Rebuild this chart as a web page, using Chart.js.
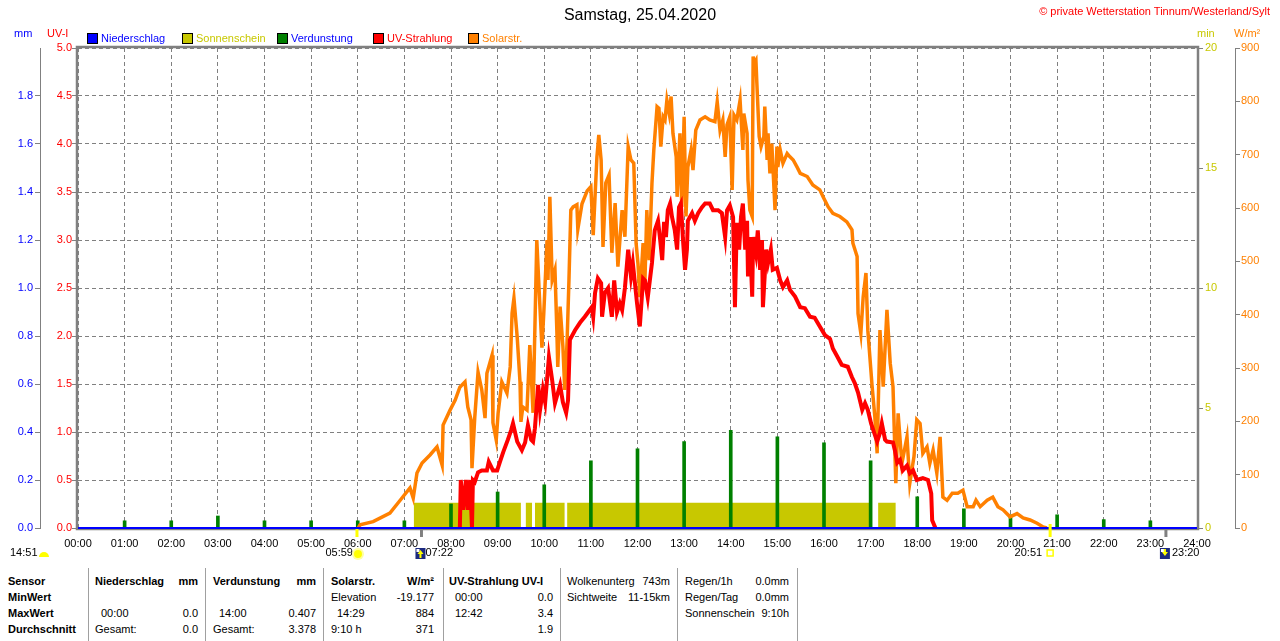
<!DOCTYPE html>
<html>
<head>
<meta charset="utf-8">
<script src="https://cdn.jsdelivr.net/npm/chart.js@4.4.1/dist/chart.umd.min.js"></script>
<style>
body { margin: 0; background: #fff; font-family: "Liberation Sans", Arial, sans-serif; font-size: 11px; color: #000; }
#wrap { position: relative; width: 1280px; height: 641px; overflow: hidden; }
#c { position: absolute; left: 0; top: 0; }
.t { position: absolute; line-height: 13px; white-space: nowrap; }
.sq { position: absolute; top: 33px; width: 9px; height: 9px; border: 1px solid #000; }
.col { position: absolute; top: 568px; height: 73px; border-left: 1px solid #a0a0a0; box-sizing: border-box; padding-top: 5px; }
.row { display: flex; justify-content: space-between; height: 16px; line-height: 16px; white-space: nowrap; }
.b { font-weight: bold; }
.in { padding-left: 6px; }
</style>
</head>
<body>
<div id="wrap">
  <canvas id="c" width="1280" height="568"></canvas>

  <div class="t" style="left:0;width:1280px;top:6px;text-align:center;font-size:16px;line-height:18px">Samstag, 25.04.2020</div>
  <div class="t" style="right:10px;top:5px;color:#ff0000">© private Wetterstation Tinnum/Westerland/Sylt</div>

  <div class="t" style="left:14px;top:27px;color:#0000ff">mm</div>
  <div class="t" style="left:47px;top:27px;color:#ff0000">UV-I</div>
  <div class="t" style="left:1197px;top:27px;color:#c8c800">min</div>
  <div class="t" style="left:1234px;top:27px;color:#ff8000">W/m²</div>

  <div class="sq" style="left:87px;background:#0000ff"></div>
  <div class="t" style="left:101px;top:32px;color:#0000ff">Niederschlag</div>
  <div class="sq" style="left:182px;background:#c8c800"></div>
  <div class="t" style="left:196px;top:32px;color:#c8c800">Sonnenschein</div>
  <div class="sq" style="left:277px;background:#008000"></div>
  <div class="t" style="left:291px;top:32px;color:#0000ff">Verdunstung</div>
  <div class="sq" style="left:373px;background:#ff0000"></div>
  <div class="t" style="left:387px;top:32px;color:#ff0000">UV-Strahlung</div>
  <div class="sq" style="left:468px;background:#ff8000"></div>
  <div class="t" style="left:482px;top:32px;color:#ff8000">Solarstr.</div>

  <div class="col" style="left:0;width:88px;border-left:none;padding-left:8px">
    <div class="row b">Sensor</div>
    <div class="row b">MinWert</div>
    <div class="row b">MaxWert</div>
    <div class="row b">Durchschnitt</div>
  </div>
  <div class="col" style="left:88px;width:117px;padding-left:6px;padding-right:7px">
    <div class="row b"><span>Niederschlag</span><span>mm</span></div>
    <div class="row"></div>
    <div class="row"><span class="in">00:00</span><span>0.0</span></div>
    <div class="row"><span>Gesamt:</span><span>0.0</span></div>
  </div>
  <div class="col" style="left:205px;width:118px;padding-left:7px;padding-right:7px">
    <div class="row b"><span>Verdunstung</span><span>mm</span></div>
    <div class="row"></div>
    <div class="row"><span class="in">14:00</span><span>0.407</span></div>
    <div class="row"><span>Gesamt:</span><span>3.378</span></div>
  </div>
  <div class="col" style="left:323px;width:120px;padding-left:7px;padding-right:9px">
    <div class="row b"><span>Solarstr.</span><span>W/m²</span></div>
    <div class="row"><span>Elevation</span><span>-19.177</span></div>
    <div class="row"><span class="in">14:29</span><span>884</span></div>
    <div class="row"><span>9:10 h</span><span>371</span></div>
  </div>
  <div class="col" style="left:443px;width:117px;padding-left:5px;padding-right:7px">
    <div class="row b"><span>UV-Strahlung UV-I</span></div>
    <div class="row"><span class="in">00:00</span><span>0.0</span></div>
    <div class="row"><span class="in">12:42</span><span>3.4</span></div>
    <div class="row"><span></span><span>1.9</span></div>
  </div>
  <div class="col" style="left:560px;width:117px;padding-left:6px;padding-right:7px">
    <div class="row"><span>Wolkenunterg</span><span>743m</span></div>
    <div class="row"><span>Sichtweite</span><span>11-15km</span></div>
  </div>
  <div class="col" style="left:677px;width:121px;padding-left:7px;padding-right:8px;border-right:1px solid #a0a0a0">
    <div class="row"><span>Regen/1h</span><span>0.0mm</span></div>
    <div class="row"><span>Regen/Tag</span><span>0.0mm</span></div>
    <div class="row"><span>Sonnenschein</span><span>9:10h</span></div>
  </div>
</div>

<script>
// Solarstrahlung W/m² (Zeit in Stunden)
const solarT = [6.01, 6.05, 6.33, 6.69, 6.91, 7.12, 7.19, 7.27, 7.38, 7.55, 7.70, 7.81, 7.83, 7.98,
  8.09, 8.19, 8.30, 8.36, 8.43, 8.45, 8.51, 8.58, 8.66, 8.73, 8.77, 8.88, 8.90, 8.97,
  9.01, 9.09, 9.20, 9.27, 9.31, 9.35, 9.42, 9.48, 9.50, 9.54, 9.63, 9.69, 9.74, 9.76, 9.84, 9.89, 9.95, 9.99,
  10.06, 10.08, 10.12, 10.17, 10.23, 10.27, 10.29, 10.34, 10.40, 10.44, 10.49, 10.53, 10.57, 10.62, 10.70, 10.72, 10.81, 10.92,
  11.00, 11.05, 11.13, 11.17, 11.22, 11.26, 11.32, 11.39, 11.45, 11.52, 11.58, 11.67, 11.73, 11.80, 11.86, 11.92, 11.97,
  12.01, 12.05, 12.12, 12.16, 12.20, 12.25, 12.31, 12.35, 12.42, 12.46, 12.50, 12.55, 12.59, 12.63, 12.68, 12.72, 12.76, 12.83, 12.85, 12.91, 12.95,
  13.00, 13.04, 13.08, 13.15, 13.19, 13.25, 13.34, 13.45, 13.55, 13.66, 13.71, 13.77, 13.83, 13.88, 13.92, 13.98,
  14.03, 14.07, 14.13, 14.20, 14.26, 14.28, 14.35, 14.37, 14.41, 14.46, 14.48, 14.50, 14.54, 14.56, 14.61, 14.65, 14.71, 14.73, 14.78, 14.80, 14.84, 14.88, 14.95, 14.99,
  15.01, 15.06, 15.12, 15.21, 15.27, 15.34, 15.42, 15.49, 15.64, 15.76, 15.91, 15.98,
  16.09, 16.19, 16.34, 16.49, 16.60, 16.62, 16.71, 16.73, 16.79, 16.84, 16.90, 16.94,
  17.03, 17.09, 17.14, 17.20, 17.27, 17.35, 17.42, 17.48, 17.54, 17.59, 17.67, 17.78, 17.84, 17.93, 17.99,
  18.06, 18.12, 18.21, 18.27, 18.34, 18.42, 18.49, 18.55, 18.64, 18.75, 18.87, 18.98,
  19.07, 19.20, 19.26, 19.35, 19.50, 19.62, 19.73, 19.84, 19.99,
  20.14, 20.27, 20.42, 20.57, 20.70, 20.78];
const solarW = [0, 6, 12, 28, 52, 75, 56, 103, 122, 137, 152, 118, 193, 221,
  240, 264, 274, 227, 203, 112, 208, 292, 259, 206, 290, 324, 197, 165,
  215, 274, 253, 302, 403, 431, 358, 274, 199, 227, 221, 343, 253, 216, 540, 446, 338, 403,
  540, 465, 621, 465, 484, 371, 302, 415, 340, 259, 350, 465, 596, 602, 606, 560, 608, 632,
  640, 549, 696, 737, 690, 527, 647, 662, 516, 609, 490, 596, 546, 715, 690, 684, 534,
  496, 433, 534, 465, 596, 502, 646, 709, 790, 787, 715, 771, 765, 802, 777, 809, 740, 696, 621, 740, 602,
  771, 584, 677, 709, 671, 746, 765, 771, 765, 762, 799, 746, 765, 696, 756, 771,
  634, 774, 765, 802, 709, 777, 740, 652, 596, 584, 884, 871, 877, 834, 734, 715, 734, 790, 690, 740, 665, 721, 596, 715,
  677, 709, 684, 702, 696, 690, 677, 665, 659, 643, 634, 621,
  602, 590, 584, 574, 559, 534, 509, 402, 365, 433, 478, 371,
  268, 209, 140, 371, 265, 409, 309, 265, 84, 215, 121, 171, 84, 134, 203,
  196, 140, 152, 121, 146, 103, 171, 58, 52, 65, 65, 71,
  40, 40, 52, 40, 52, 58, 40, 34, 21,
  27, 19, 15, 9, 2, 0];

// UV-Index
const uvT = [8.19, 8.21, 8.26, 8.32, 8.36, 8.41, 8.45, 8.47, 8.51, 8.58, 8.66, 8.77, 8.81, 8.90, 8.99,
  9.05, 9.12, 9.22, 9.29, 9.33, 9.42, 9.52, 9.59, 9.65, 9.72, 9.76, 9.80, 9.87, 9.91, 9.97,
  10.02, 10.10, 10.17, 10.23, 10.34, 10.40, 10.47, 10.51, 10.55, 10.66, 10.77, 10.87,
  11.02, 11.05, 11.09, 11.15, 11.22, 11.24, 11.30, 11.37, 11.45, 11.50, 11.56, 11.62, 11.67, 11.73, 11.80, 11.86, 11.90, 11.99,
  12.05, 12.12, 12.16, 12.22, 12.31, 12.37, 12.44, 12.48, 12.53, 12.57, 12.61, 12.65, 12.70, 12.74, 12.80, 12.85, 12.89, 12.93, 12.98,
  13.02, 13.06, 13.08, 13.17, 13.23, 13.30, 13.38, 13.45, 13.55, 13.62, 13.73, 13.81, 13.88, 13.92, 13.98,
  14.05, 14.09, 14.13, 14.18, 14.22, 14.26, 14.31, 14.35, 14.37, 14.41, 14.46, 14.48, 14.54, 14.58, 14.63, 14.67, 14.69, 14.76, 14.80, 14.86, 14.90, 14.99,
  15.06, 15.12, 15.21, 15.27, 15.38, 15.49, 15.59, 15.70, 15.80, 15.91,
  16.02, 16.13, 16.19, 16.27, 16.38, 16.51, 16.60, 16.66, 16.73, 16.82, 16.88, 16.94,
  17.01, 17.07, 17.14, 17.20, 17.24, 17.31, 17.35, 17.48, 17.52, 17.57, 17.63, 17.69, 17.78, 17.84, 17.91, 17.99,
  18.12, 18.23, 18.30, 18.32, 18.39];
const uvI = [0, 0.5, 0.19, 0.5, 0.19, 0.5, 0, 0.5, 0.48, 0.58, 0.6, 0.6, 0.69, 0.6, 0.6,
  0.69, 0.79, 0.92, 1.02, 1.09, 0.9, 0.81, 0.89, 1.07, 0.92, 0.9, 1.04, 1.49, 1.23, 1.44,
  1.31, 1.78, 1.54, 1.30, 1.49, 1.31, 1.2, 1.33, 1.96, 2.06, 2.14, 2.2,
  2.3, 2.2, 2.45, 2.6, 2.55, 2.2, 2.45, 2.5, 2.2, 2.58, 2.25, 2.34, 2.27, 2.5, 2.9, 2.62, 2.76, 2.34,
  2.1, 2.6, 2.58, 2.4, 2.76, 3.1, 3.2, 3.03, 2.79, 3.19, 3.03, 3.31, 3.38, 3.24, 3.1, 2.9, 3.34, 3.38, 2.97,
  2.69, 2.9, 3.2, 3.28, 3.2, 3.28, 3.34, 3.38, 3.38, 3.31, 3.31, 3.28, 3.03, 3.31, 3.36,
  3.24, 2.3, 3.18, 2.9, 3.24, 3.38, 2.9, 3.2, 2.62, 3.03, 2.41, 3.03, 2.86, 3.1, 2.69, 3.0, 2.3, 2.9, 2.76, 2.9, 2.69, 2.71,
  2.58, 2.51, 2.58, 2.48, 2.41, 2.3, 2.29, 2.2, 2.19, 2.1,
  2.01, 1.97, 1.87, 1.8, 1.7, 1.68, 1.57, 1.51, 1.41, 1.23, 1.3, 1.23,
  1.09, 1.0, 0.9, 0.99, 1.09, 0.92, 0.9, 0.89, 0.81, 0.68, 0.71, 0.6, 0.65, 0.57, 0.6, 0.5,
  0.52, 0.5, 0.36, 0.08, 0];

// Verdunstung mm (stündlich)
const verdT = [1, 2, 3, 4, 5, 6, 7, 8, 9, 10, 11, 12, 13, 14, 15, 16, 17, 18, 19, 20, 21, 22, 23];
const verdMM = [0.03, 0.03, 0.05, 0.03, 0.03, 0.03, 0.03, 0.10, 0.15, 0.18, 0.28, 0.33, 0.36, 0.407,
  0.38, 0.355, 0.28, 0.13, 0.08, 0.055, 0.055, 0.035, 0.03];

// Sonnenschein (min), Zeiträume mit Sonne
const sunStart = [7.20, 9.60, 9.80, 10.49, 17.16];
const sunEnd = [9.50, 9.74, 10.44, 16.99, 17.54];
const sunMin = 1.05;

// Niederschlag mm
const rainT = [0, 24];
const rainMM = [0, 0];

// Sonnen-/Mondzeiten unter der Achse
const markLabels = ["05:59", "07:22", "20:51", "23:20"];
const moonLabel = "14:51";

function toHours(s) {
  const p = s.split(":");
  return +p[0] + +p[1] / 60;
}
function pts(xs, ys) {
  return xs.map((x, i) => ({ x: x, y: ys[i] }));
}

const sunPts = [];
sunStart.forEach((s, i) => {
  sunPts.push({ x: s, y: sunMin }, { x: sunEnd[i], y: sunMin }, { x: sunEnd[i], y: null });
});

const GRID = "#808080";

const framePlugin = {
  id: "frame",
  beforeDatasetsDraw(chart) {
    const { ctx, chartArea: a } = chart;
    ctx.save();
    ctx.strokeStyle = GRID;
    ctx.lineWidth = 2.5;
    ctx.strokeRect(a.left - 1, a.top - 1, a.right - a.left + 2, a.bottom - a.top + 2);
    ctx.restore();
  },
  afterDraw(chart) {
    const { ctx } = chart;
    const xs = chart.scales.x;
    const b = chart.chartArea.bottom;
    const t = markLabels.map(toHours).map(h => xs.getPixelForValue(h));
    ctx.save();
    // Markierungen an der Achse
    const tick = (x, y1, y2, c) => {
      ctx.strokeStyle = c; ctx.lineWidth = 3;
      ctx.beginPath(); ctx.moveTo(x, y1); ctx.lineTo(x, y2); ctx.stroke();
    };
    tick(t[0], b + 1, b + 9, "#ffff00");
    tick(t[1], b + 1, b + 9, GRID);
    tick(t[2], b - 4, b + 9, "#ffff00");
    tick(t[3], b + 1, b + 9, GRID);

    ctx.font = "11px 'Liberation Sans', Arial, sans-serif";
    ctx.fillStyle = "#000";
    ctx.textBaseline = "middle";
    const y = 553;
    ctx.textAlign = "left";
    ctx.fillText(moonLabel, 10, y);
    ctx.fillText(markLabels[1], t[1] + 4, y);
    ctx.fillText(markLabels[3], t[3] + 6, y);
    ctx.textAlign = "right";
    ctx.fillText(markLabels[0], t[0] - 4, y);
    ctx.fillText(markLabels[2], t[2] - 8, y);

    // Mond
    ctx.fillStyle = "#ffff00";
    ctx.beginPath(); ctx.arc(44, 557, 5, Math.PI, 0); ctx.fill();
    // Sonnenaufgang
    ctx.fillStyle = "#ffffa0";
    ctx.beginPath(); ctx.arc(t[0] + 1, 554, 6, 0, Math.PI * 2); ctx.fill();
    ctx.fillStyle = "#ffff00";
    ctx.beginPath(); ctx.arc(t[0] + 1, 554, 4, 0, Math.PI * 2); ctx.fill();
    // Symbole
    const icon = (x, up) => {
      ctx.fillStyle = "#1c2a80";
      ctx.fillRect(x - 5, 548, 10, 11);
      ctx.fillStyle = "#ffffff";
      ctx.fillRect(x - 4, 549, 3, 3);
      ctx.fillStyle = "#ffff00";
      ctx.beginPath();
      if (up) { ctx.moveTo(x, 550); ctx.lineTo(x + 3, 554); ctx.lineTo(x - 3, 554); }
      else { ctx.moveTo(x, 556); ctx.lineTo(x + 3, 552); ctx.lineTo(x - 3, 552); }
      ctx.fill();
      ctx.fillRect(x - 1, up ? 554 : 549, 2, 4);
    };
    icon(t[1] - 1, true);
    icon(t[3] - 1, false);
    ctx.strokeStyle = "#ffff00"; ctx.lineWidth = 1.5;
    ctx.strokeRect(t[2] - 3, 550, 6, 6);
    ctx.restore();
  }
};

const fit = w => s => { s.width = w; };

new Chart(document.getElementById("c"), {
  type: "line",
  data: {
    datasets: [
      { label: "Sonnenschein", data: sunPts, yAxisID: "yMin", fill: "origin",
        backgroundColor: "#c8c800", borderWidth: 0, pointRadius: 0, spanGaps: false, order: 5 },
      { type: "bar", label: "Verdunstung", data: pts(verdT, verdMM), yAxisID: "yMM",
        backgroundColor: "#008000", barThickness: 3, grouped: false, order: 4 },
      { label: "Solarstr.", data: pts(solarT, solarW), yAxisID: "yW",
        borderColor: "#ff8000", borderWidth: 3.5, pointRadius: 0, tension: 0, order: 3 },
      { label: "UV-Strahlung", data: pts(uvT, uvI), yAxisID: "yUV",
        borderColor: "#ff0000", borderWidth: 4, pointRadius: 0, tension: 0, order: 2 },
      { label: "Niederschlag", data: pts(rainT, rainMM), yAxisID: "yMM",
        borderColor: "#0000ff", borderWidth: 2, pointRadius: 0, clip: 4, order: 1 }
    ]
  },
  options: {
    responsive: false,
    animation: false,
    devicePixelRatio: 1,
    layout: { padding: { top: 48, left: 0, right: 0, bottom: 0 } },
    plugins: { legend: { display: false }, tooltip: { enabled: false } },
    font: { family: "'Liberation Sans', Arial, sans-serif", size: 11 },
    scales: {
      x: {
        type: "linear", min: 0, max: 24, offset: false,
        afterFit: s => { s.height = 40; },
        grid: { color: GRID, lineWidth: 1, drawTicks: false, offset: false },
        border: { display: false, dash: [4, 3] },
        ticks: {
          stepSize: 1, autoSkip: false, maxRotation: 0, padding: 9, color: "#000",
          font: { family: "'Liberation Sans', Arial, sans-serif", size: 11 },
          callback: v => String(v).padStart(2, "0") + ":00"
        }
      },
      yUV: {
        position: "left", weight: 0, min: 0, max: 5,
        afterFit: fit(38),
        grid: { color: GRID, lineWidth: 1, tickLength: 6 },
        border: { display: false, dash: [4, 3] },
        ticks: { stepSize: 0.5, padding: 0, color: "#ff0000",
          font: { family: "'Liberation Sans', Arial, sans-serif", size: 11 },
          callback: v => v.toFixed(1) }
      },
      yMM: {
        position: "left", weight: 1, min: 0, max: 2,
        afterFit: fit(40),
        grid: { drawOnChartArea: false, tickLength: 5,
          color: c => (c.tick && c.tick.value > 1.95 ? "rgba(0,0,0,0)" : GRID) },
        border: { display: true, color: GRID, width: 1 },
        ticks: { stepSize: 0.2, padding: 2, color: "#0000ff",
          font: { family: "'Liberation Sans', Arial, sans-serif", size: 11 },
          callback: v => (v > 1.95 ? "" : v.toFixed(1)) }
      },
      yMin: {
        position: "right", weight: 0, min: 0, max: 20,
        afterFit: fit(38),
        grid: { drawOnChartArea: false, tickLength: 6, color: GRID },
        border: { display: false },
        ticks: { stepSize: 5, padding: 2, color: "#c8c800",
          font: { family: "'Liberation Sans', Arial, sans-serif", size: 11 } }
      },
      yW: {
        position: "right", weight: 1, min: 0, max: 900,
        afterFit: fit(45),
        grid: { drawOnChartArea: false, tickLength: 5, color: GRID },
        border: { display: true, color: GRID, width: 1 },
        ticks: { stepSize: 100, padding: 1, color: "#ff8000",
          font: { family: "'Liberation Sans', Arial, sans-serif", size: 11 } }
      }
    }
  },
  plugins: [framePlugin]
});
</script>
</body>
</html>
